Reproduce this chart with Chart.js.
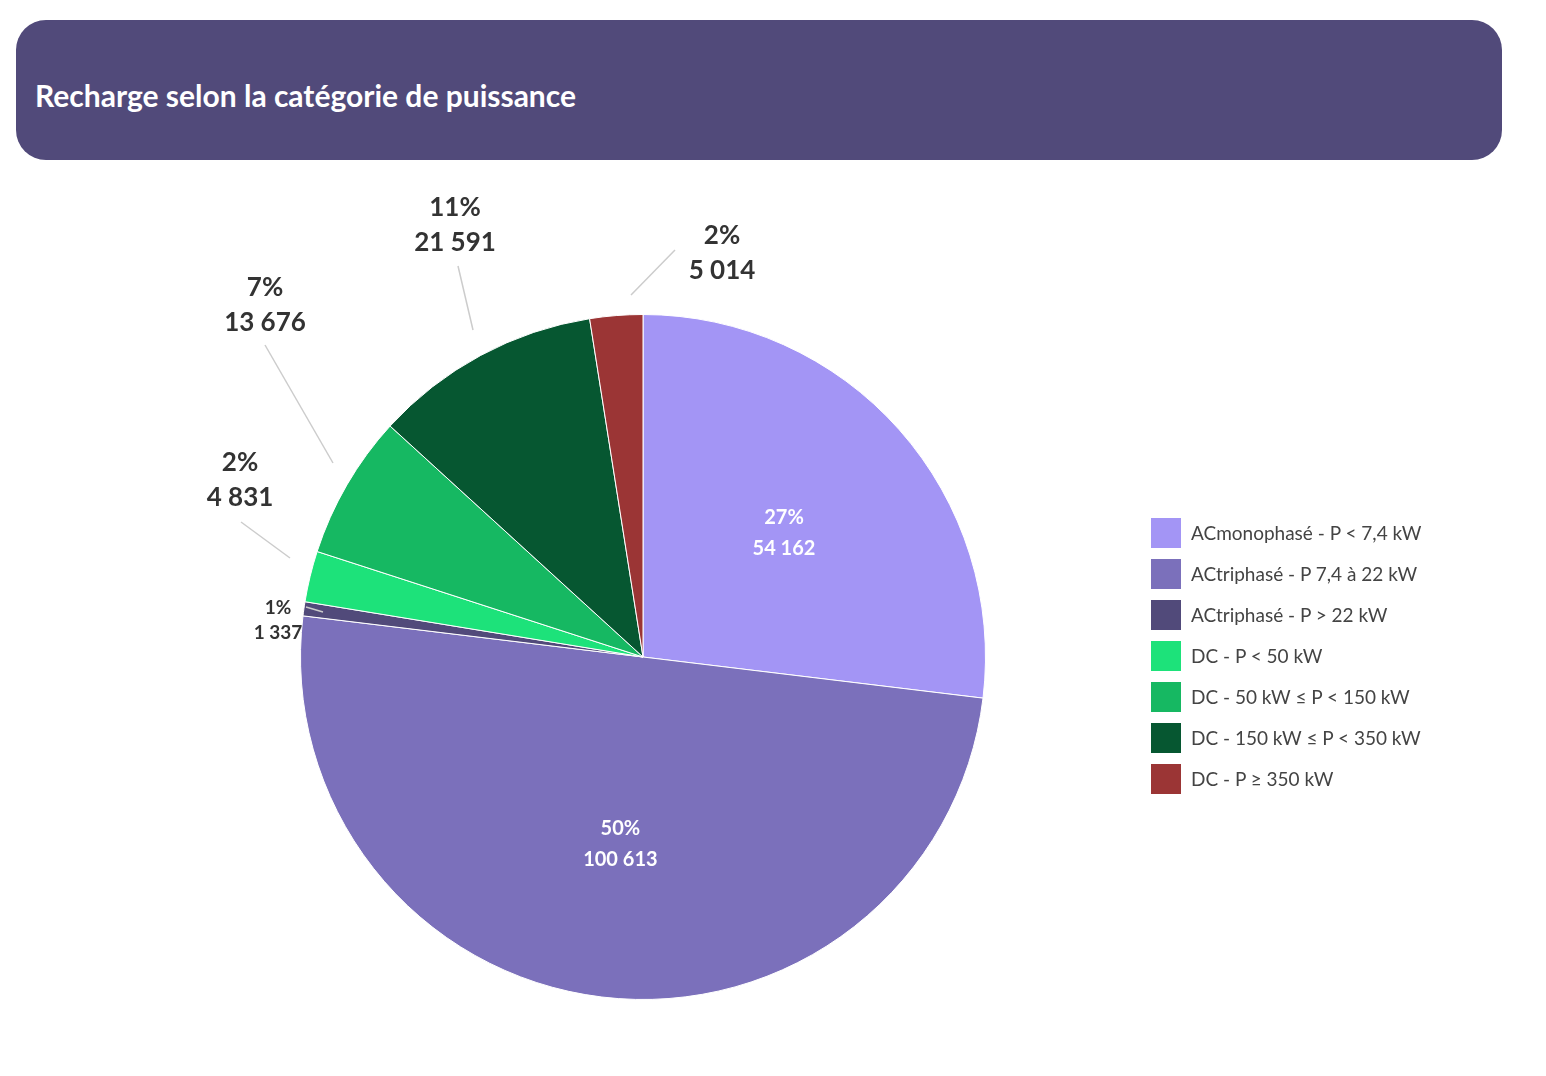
<!DOCTYPE html>
<html lang="fr">
<head>
<meta charset="UTF-8" />
<title>Recharge selon la catégorie de puissance</title>
<script src="https://cdn.jsdelivr.net/npm/chart.js"></script>
<style>
  body { margin: 0; background: #fff; font-family: Lato, "Open Sans", sans-serif; }
  .wrap { position: relative; width: 1546px; height: 1076px; }
  .header {
    position: absolute; left: 16px; top: 20px; width: 1486px; height: 140px;
    background: #514a7a; border-radius: 30px; color: #fff;
    font-weight: bold; font-size: 30px; line-height: 150px; padding-left: 19px; box-sizing: border-box;
  }
  canvas { position: absolute; left: 0; top: 0; }
  .legend { position: absolute; left: 1151px; top: 518px; color: #444; font-size: 19px; }
  .legend div { height: 41px; display: flex; align-items: flex-start; }
  .legend span.box { width: 30px; height: 30px; margin-right: 10px; display: inline-block; }
  .legend span.txt { line-height: 30px; }
</style>
</head>
<body>
<div class="wrap">
  <div class="header">Recharge selon la catégorie de puissance</div>
  <canvas id="pie" width="1546" height="1076"></canvas>
  <div class="legend" id="legend"></div>
</div>
<script>
const categories = [
  'ACmonophasé - P < 7,4 kW',
  'ACtriphasé - P 7,4 à 22 kW',
  'ACtriphasé - P > 22 kW',
  'DC - P < 50 kW',
  'DC - 50 kW ≤ P < 150 kW',
  'DC - 150 kW  ≤ P < 350 kW',
  'DC - P ≥ 350 kW'
];
const values = [54162, 100613, 1337, 4831, 13676, 21591, 5014];
const percents = ['27%', '50%', '1%', '2%', '7%', '11%', '2%'];
const valueLabels = ['54 162', '100 613', '1 337', '4 831', '13 676', '21 591', '5 014'];
const colors = ['#a395f5', '#7b70bb', '#514a7a', '#1de27a', '#16b862', '#065731', '#9b3535'];

// placement des étiquettes extérieures : [texte x, y, ligne x1, y1, x2, y2, taille]
const outside = {
  2: [278, 620, 323, 612, 306, 607, 19],
  3: [240, 480, 290, 558, 241, 522, 26],
  4: [265, 305, 333, 463, 265, 345, 26],
  5: [455, 225, 473, 330, 458, 266, 26],
  6: [722, 253, 631, 295, 675, 250, 26]
};

const legend = document.getElementById('legend');
categories.forEach((c, i) => {
  legend.innerHTML += `<div><span class="box" style="background:${colors[i]}"></span><span class="txt">${c}</span></div>`;
});

const labelPlugin = {
  id: 'pieLabels',
  afterDraw(chart) {
    const ctx = chart.ctx;
    const meta = chart.getDatasetMeta(0);
    ctx.save();
    ctx.textAlign = 'center';
    ctx.textBaseline = 'middle';
    meta.data.forEach((arc, i) => {
      const o = outside[i];
      if (o) {
        ctx.strokeStyle = '#ccc';
        ctx.lineWidth = 1.5;
        ctx.beginPath(); ctx.moveTo(o[2], o[3]); ctx.lineTo(o[4], o[5]); ctx.stroke();
        ctx.fillStyle = '#333';
        ctx.font = `bold ${o[6]}px Lato, sans-serif`;
        const gap = o[6] * 1.32;
        ctx.fillText(percents[i], o[0], o[1] - gap / 2);
        ctx.fillText(valueLabels[i], o[0], o[1] + gap / 2);
      } else {
        const p = arc.tooltipPosition();
        const mid = (arc.startAngle + arc.endAngle) / 2;
        const r = arc.outerRadius * 0.55;
        const x = arc.x + Math.cos(mid) * r, y = arc.y + Math.sin(mid) * r;
        ctx.fillStyle = '#fff';
        ctx.font = 'bold 20px Lato, sans-serif';
        ctx.fillText(percents[i], x, y - 15);
        ctx.fillText(valueLabels[i], x, y + 16);
      }
    });
    ctx.restore();
  }
};

new Chart(document.getElementById('pie'), {
  type: 'pie',
  data: {
    labels: categories,
    datasets: [{ data: values, backgroundColor: colors, borderColor: '#fff', borderWidth: 1 }]
  },
  options: {
    responsive: false,
    animation: false,
    layout: { padding: { left: 300, right: 560, top: 314, bottom: 76 } },
    plugins: { legend: { display: false }, tooltip: { enabled: false } }
  },
  plugins: [labelPlugin]
});
</script>
</body>
</html>
